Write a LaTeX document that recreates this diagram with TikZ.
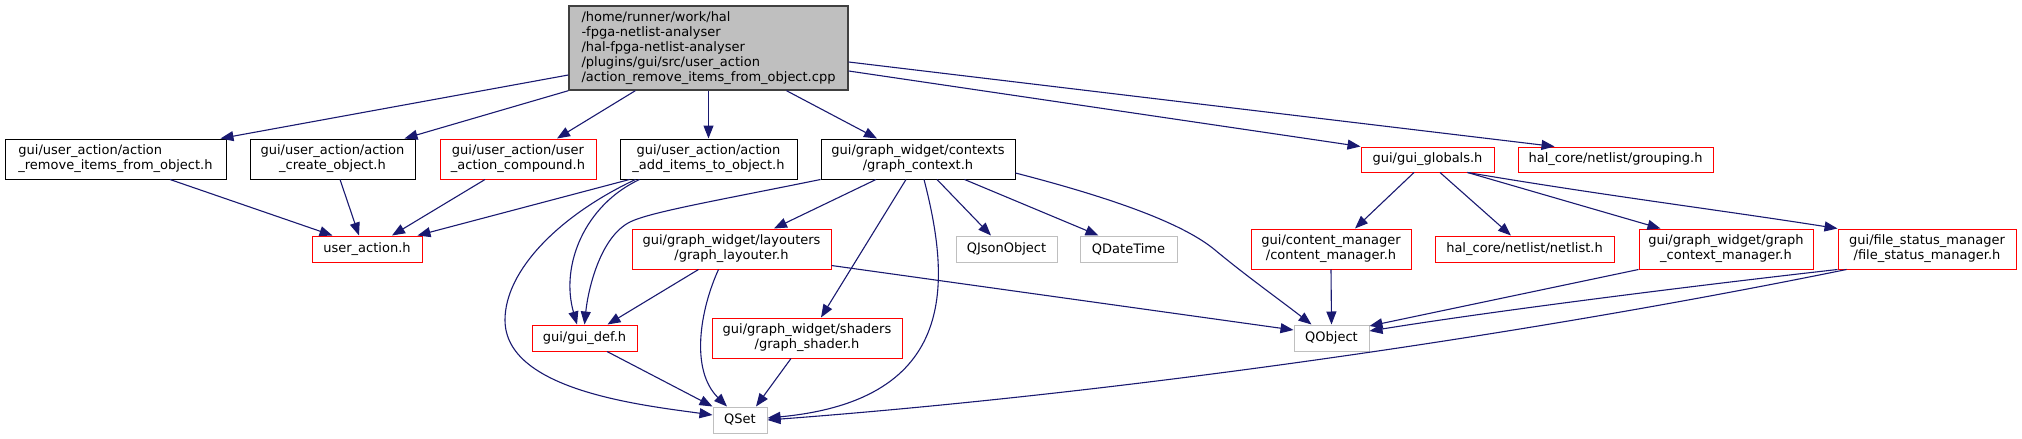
\documentclass[tikz,border=0pt]{standalone}
\usepackage{fontspec}
\setmainfont{DejaVu Sans}
\usepackage{tikz}
\usetikzlibrary{arrows.meta, positioning, calc}
\definecolor{edgeblue}{RGB}{25, 25, 112}
\definecolor{trunkred}{RGB}{255, 0, 0}
\definecolor{extgrey}{RGB}{191, 191, 191}
\definecolor{rootedge}{RGB}{64, 64, 64}

\begin{document}
\begin{tikzpicture}[x=1pt, y=-1pt,
    every node/.style={font=\fontsize{13}{15}\selectfont, inner sep=0pt},
    file/.style={rectangle, draw=black, fill=white, line width=1pt, minimum height=40pt, align=center},
    redfile/.style={file, draw=trunkred},
    extfile/.style={file, draw=extgrey, minimum height=26pt},
    rootfile/.style={file, draw=rootedge, fill=extgrey, line width=1.4pt, align=left},
    dep/.style={draw=edgeblue, line width=1.1pt, -{Triangle[length=13pt, width=10pt]}, fill=none},
    depfill/.style={fill=edgeblue}]
    \useasboundingbox (0,0) rectangle (2022,439);

    % File being documented
    \node (root) [rootfile, minimum width=279pt, minimum height=84pt] at (708.5,48) {/home/runner/work/hal\\-fpga-netlist-analyser\\/hal-fpga-netlist-analyser\\/plugins/gui/src/user\_action\\/action\_remove\_items\_from\_object.cpp};

    % Direct includes
    \node (rmv) [file, align=left, minimum width=221pt] at (115.5,159) {gui/user\_action/action\\\_remove\_items\_from\_object.h};
    \node (crt) [file, minimum width=165pt] at (332.5,159) {gui/user\_action/action\\\_create\_object.h};
    \node (cmp) [redfile, minimum width=156pt] at (518,159) {gui/user\_action/user\\\_action\_compound.h};
    \node (add) [file, minimum width=177pt] at (708.5,159) {gui/user\_action/action\\\_add\_items\_to\_object.h};
    \node (gctx) [file, minimum width=194pt] at (918,159) {gui/graph\_widget/contexts\\/graph\_context.h};
    \node (glob) [redfile, minimum width=133pt, minimum height=25pt] at (1427.5,159.5) {gui/gui\_globals.h};
    \node (grp) [redfile, minimum width=195pt, minimum height=25pt] at (1615.5,159.5) {hal\_core/netlist/grouping.h};

    % Second level
    \node (ua) [redfile, minimum width=110pt, minimum height=26pt] at (367,249) {user\_action.h};
    \node (lay) [redfile, minimum width=199pt] at (731.5,249) {gui/graph\_widget/layouters\\/graph\_layouter.h};
    \node (qjson) [extfile, minimum width=101pt] at (1006.5,249) {QJsonObject};
    \node (qdt) [extfile, minimum width=97pt] at (1128.5,249) {QDateTime};
    \node (cmgr) [redfile, minimum width=160pt] at (1331,249) {gui/content\_manager\\/content\_manager.h};
    \node (nl) [redfile, minimum width=179pt, minimum height=26pt] at (1524.5,249) {hal\_core/netlist/netlist.h};
    \node (gcm) [redfile, minimum width=174pt] at (1726,249) {gui/graph\_widget/graph\\\_context\_manager.h};
    \node (fsm) [redfile, minimum width=178pt] at (1927,249) {gui/file\_status\_manager\\/file\_status\_manager.h};

    % Third level
    \node (gdef) [redfile, minimum width=105pt, minimum height=26pt] at (584.5,338) {gui/gui\_def.h};
    \node (shd) [redfile, minimum width=190pt] at (807,338) {gui/graph\_widget/shaders\\/graph\_shader.h};
    \node (qobj) [extfile, minimum width=75pt] at (1331.5,338) {QObject};
    \node (qset) [extfile, minimum width=54pt] at (740,420) {QSet};

    % Edges from the root
    \draw[dep] ([yshift=-27pt]root.west) -- ([xshift=-6pt]rmv.north east);
    \draw[dep] (root.south west) -- ([xshift=-11pt]crt.north east);
    \draw[dep] ([xshift=67pt]root.south west) -- ([xshift=39pt]cmp.north);
    \draw[dep] (root.south) -- (add.north);
    \draw[dep] ([xshift=78pt]root.south) -- ([xshift=-41pt]gctx.north);
    \draw[dep] ([yshift=-14pt]root.east) -- ([xshift=37pt]grp.north west);
    \draw[dep] ([yshift=-23pt]root.east) -- (glob.north west);

    % user_action headers
    \draw[dep] ([xshift=54.5pt]rmv.south) -- ([xshift=21pt]ua.north west);
    \draw[dep] ([xshift=7.5pt]crt.south) -- ([xshift=-8pt]ua.north);
    \draw[dep] ([xshift=-33pt]cmp.south) -- ([xshift=25pt]ua.north);
    \draw[dep] ([xshift=10pt]add.south west) -- ([xshift=-5pt]ua.north east);
    \draw[dep] ([xshift=20pt]add.south west) .. controls (585,205) and (560,265) .. ([xshift=-7.5pt]gdef.north);
    \draw[dep] ([xshift=16pt]add.south west) .. controls (560,215) and (505,270) .. (505,320) .. controls (505,390) and (640,405) .. ([yshift=5pt]qset.west);

    % graph_context.h
    \draw[dep] (gctx.south west) .. controls (720,200) and (650,212) .. (630,222) .. controls (600,237) and (588,290) .. (gdef.north);
    \draw[dep] ([xshift=-42pt]gctx.south) -- ([xshift=42.5pt]lay.north);
    \draw[dep] ([xshift=-12pt]gctx.south) -- ([xshift=14pt]shd.north);
    \draw[dep] ([xshift=6pt]gctx.south) .. controls (950,280) and (960,400) .. ([yshift=2pt]qset.east);
    \draw[dep] ([xshift=19pt]gctx.south) -- ([xshift=-15.5pt]qjson.north);
    \draw[dep] ([xshift=-51pt]gctx.south east) -- ([xshift=-30pt]qdt.north);
    \draw[dep] ([yshift=-14pt]gctx.east) .. controls (1120,200) and (1185,225) .. (1215,250) .. controls (1245,275) and (1280,300) .. ([xshift=-20pt]qobj.north);

    % graph_layouter.h and below
    \draw[dep] ([xshift=67pt]lay.south west) -- ([xshift=-30pt]gdef.north east);
    \draw[dep] ([xshift=87pt]lay.south west) .. controls (700,310) and (690,370) .. ([xshift=-13pt]qset.north);
    \draw[dep] ([yshift=4pt]lay.south east) -- ([yshift=8pt]qobj.west);
    \draw[dep] ([xshift=-16pt]shd.south) -- ([xshift=16pt]qset.north);
    \draw[dep] ([xshift=22.5pt]gdef.south) -- (qset.north west);

    % gui_globals.h
    \draw[dep] ([xshift=-13.5pt]glob.south) -- ([xshift=24pt]cmgr.north);
    \draw[dep] ([xshift=12.5pt]glob.south) -- ([xshift=-13.5pt]nl.north);
    \draw[dep] ([xshift=-27pt]glob.south east) -- ([xshift=22pt]gcm.north west);
    \draw[dep] ([xshift=-27pt]glob.south east) .. controls (1600,195) and (1720,210) .. (fsm.north west);
    \draw[dep] (cmgr.south) -- (qobj.north);
    \draw[dep] (gcm.south west) -- ([yshift=12pt]qobj.east);
    \draw[dep] (fsm.south west) .. controls (1700,285) and (1500,310) .. ([yshift=7pt]qobj.east);
    \draw[dep] ([xshift=9pt]fsm.south west) .. controls (1500,340) and (1100,395) .. (qset.east);
\end{tikzpicture}
\end{document}
